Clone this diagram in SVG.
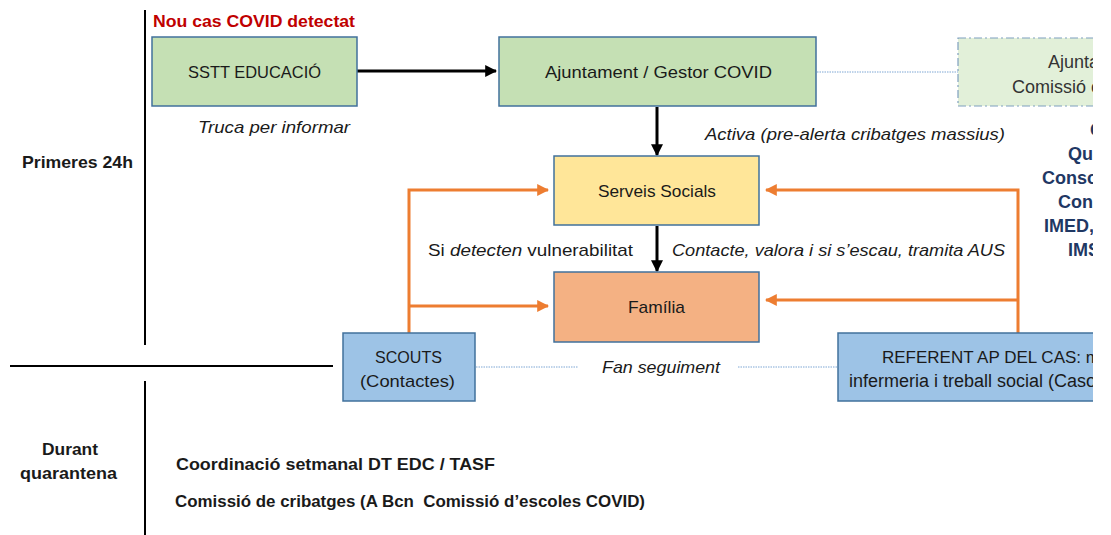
<svg xmlns="http://www.w3.org/2000/svg" width="1111" height="535" viewBox="0 0 1111 535">
<style>
text{font-family:"Liberation Sans",Arial,sans-serif;font-size:17px;fill:#1a1a1a}
.c{text-anchor:middle}
.i{font-style:italic}
.b{font-weight:bold}
.box{stroke:#41719c;stroke-width:1.5}
.g{fill:#c5e0b4}
.blk{stroke:#000;stroke-width:3;fill:none}
.or{stroke:#ed7d31;stroke-width:3;fill:none}
.dot{stroke:#7fa7d4;stroke-width:1;stroke-dasharray:1.5 1;fill:none}
.nv{fill:#1f3864;font-weight:bold;font-size:18px}
.gr{fill:#333;font-size:18px}
</style>
<defs>
<marker id="ab" viewBox="0 0 10 10" refX="9" refY="5" markerWidth="4" markerHeight="4" orient="auto" markerUnits="strokeWidth"><path d="M0,0 L10,5 L0,10 z" fill="#000"/></marker>
<marker id="ao" viewBox="0 0 10 10" refX="9" refY="5" markerWidth="4" markerHeight="4" orient="auto" markerUnits="strokeWidth"><path d="M0,0 L10,5 L0,10 z" fill="#ed7d31"/></marker>
<clipPath id="edge"><rect x="0" y="0" width="1093" height="535"/></clipPath>
</defs>
<rect width="1111" height="535" fill="#fff"/>
<g id="frame">
<line x1="145" y1="10" x2="145" y2="345" stroke="#000" stroke-width="2"/>
<line x1="145" y1="381" x2="145" y2="535" stroke="#000" stroke-width="2"/>
<line x1="10" y1="366" x2="333" y2="366" stroke="#000" stroke-width="2"/>
<text class="b" x="22" y="168" textLength="111" lengthAdjust="spacingAndGlyphs">Primeres 24h</text>
<text class="b" x="42" y="455" textLength="56" lengthAdjust="spacingAndGlyphs">Durant</text>
<text class="b" x="20" y="479" textLength="97" lengthAdjust="spacingAndGlyphs">quarantena</text>
<text class="b" x="176" y="470" textLength="319" lengthAdjust="spacingAndGlyphs">Coordinació setmanal DT EDC / TASF</text>
<text class="b" x="175" y="507" textLength="470" lengthAdjust="spacingAndGlyphs">Comissió de cribatges (A Bcn&#160; Comissió d’escoles COVID)</text>
<text class="b" x="153" y="27" style="fill:#c00000" textLength="202" lengthAdjust="spacingAndGlyphs">Nou cas COVID detectat</text>
</g>
<g id="connectors">
<line class="blk" x1="357" y1="71" x2="496" y2="71" marker-end="url(#ab)"/>
<line class="blk" x1="657" y1="107" x2="657" y2="155" marker-end="url(#ab)"/>
<line class="blk" x1="657" y1="226" x2="657" y2="271" marker-end="url(#ab)"/>
<polyline class="or" points="409,333 409,190 548,190" marker-end="url(#ao)"/>
<line class="or" x1="409" y1="306" x2="548" y2="306" marker-end="url(#ao)"/>
<polyline class="or" points="1018,333 1018,190 766,190" marker-end="url(#ao)"/>
<line class="or" x1="1018" y1="300" x2="766" y2="300" marker-end="url(#ao)"/>
<line class="dot" x1="817" y1="72" x2="958" y2="72"/>
<line class="dot" x1="476" y1="367" x2="578" y2="367"/>
<line class="dot" x1="738" y1="367" x2="838" y2="367"/>
<text class="i" x="198" y="133" textLength="152" lengthAdjust="spacingAndGlyphs">Truca per informar</text>
<text class="i" x="705" y="140" textLength="300" lengthAdjust="spacingAndGlyphs">Activa (pre-alerta cribatges massius)</text>
<text x="428" y="256" textLength="205" lengthAdjust="spacingAndGlyphs">Si <tspan class="i">detecten</tspan> vulnerabilitat</text>
<text class="i" x="672" y="256" textLength="333" lengthAdjust="spacingAndGlyphs">Contacte, valora i si s’escau, tramita AUS</text>
<text class="i" x="602" y="373" textLength="118" lengthAdjust="spacingAndGlyphs">Fan seguiment</text>
</g>
<g id="sstt">
<rect class="box g" x="152" y="37" width="205" height="69"/>
<text x="188" y="78" textLength="133" lengthAdjust="spacingAndGlyphs">SSTT EDUCACIÓ</text>
</g>
<g id="ajuntament">
<rect class="box g" x="499" y="37" width="317" height="69"/>
<text x="545" y="78" textLength="227" lengthAdjust="spacingAndGlyphs">Ajuntament / Gestor COVID</text>
</g>
<g id="comissio" clip-path="url(#edge)">
<rect x="958" y="38" width="170" height="68" fill="#e2f0d9" stroke="#7f9fbf" stroke-width="1.2" stroke-dasharray="8 3 2 3"/>
<text class="gr" x="1048" y="68">Ajuntament</text>
<text class="gr" x="1012" y="93">Comissió cribatges</text>
</g>
<g id="entitats" clip-path="url(#edge)">
<text class="nv" x="1090" y="136">CAP</text>
<text class="nv" x="1068" y="160">Quirón</text>
<text class="nv" x="1042" y="184">Consorci</text>
<text class="nv" x="1058" y="208">Consell</text>
<text class="nv" x="1044" y="232">IMED, IMS</text>
<text class="nv" x="1068" y="256">IMSS</text>
</g>
<g id="serveis">
<rect class="box" x="554" y="156" width="205" height="69" fill="#ffe699"/>
<text x="598" y="197" textLength="118" lengthAdjust="spacingAndGlyphs">Serveis Socials</text>
</g>
<g id="familia">
<rect class="box" x="554" y="272" width="205" height="70" fill="#f4b183"/>
<text x="628" y="313" textLength="57" lengthAdjust="spacingAndGlyphs">Família</text>
</g>
<g id="scouts">
<rect class="box" x="343" y="333" width="132" height="68" fill="#9dc3e6"/>
<text x="375" y="363" textLength="67" lengthAdjust="spacingAndGlyphs">SCOUTS</text>
<text x="360" y="387" textLength="95" lengthAdjust="spacingAndGlyphs">(Contactes)</text>
</g>
<g id="referent" clip-path="url(#edge)">
<rect class="box" x="838" y="333" width="290" height="68" fill="#9dc3e6"/>
<text x="882" y="363">REFERENT AP DEL CAS: metge,</text>
<text x="849" y="387" style="font-size:18px">infermeria i treball social (Casos)</text>
</g>
</svg>
